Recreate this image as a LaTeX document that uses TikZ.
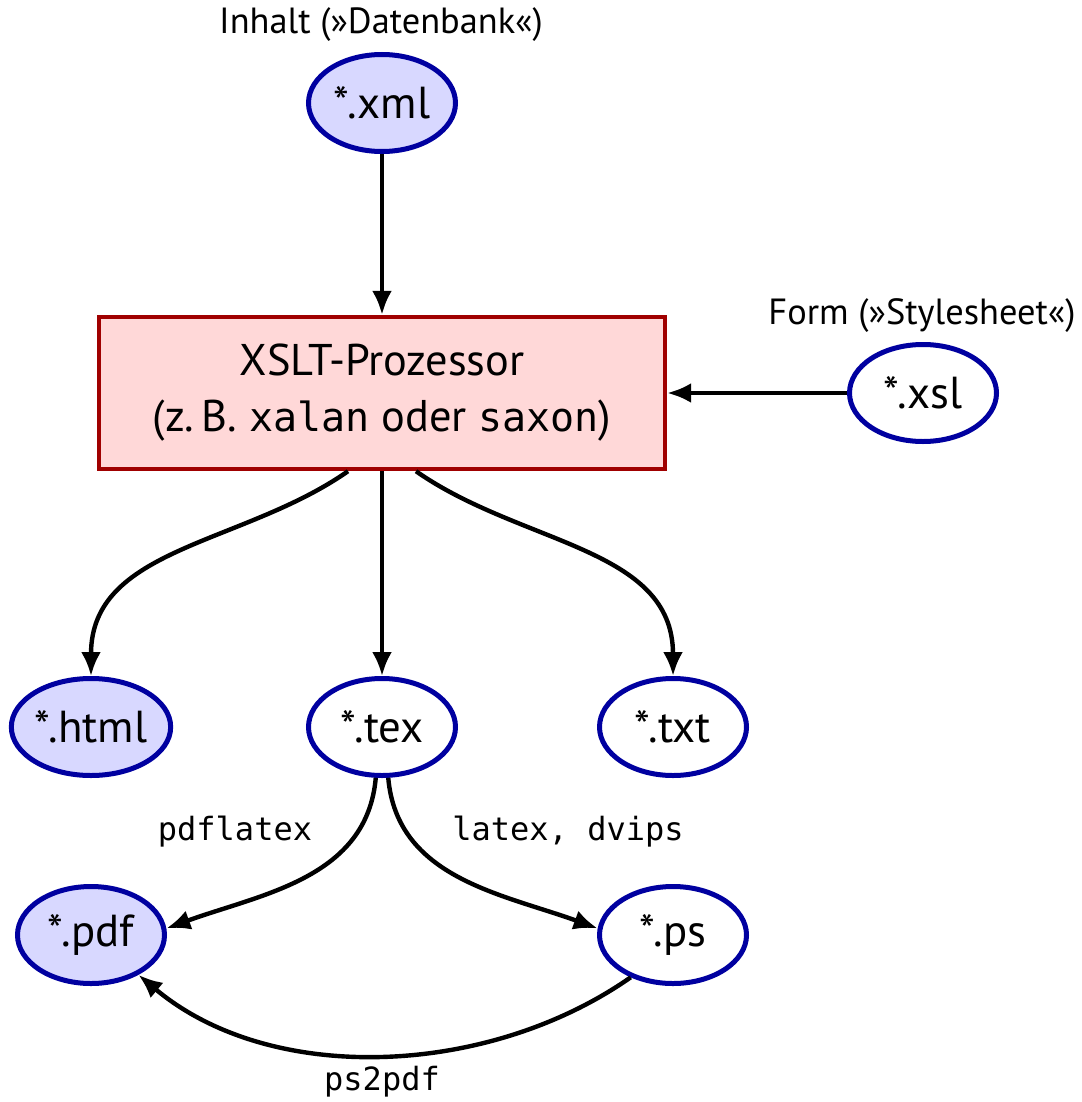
\documentclass[tikz,border=0pt]{standalone}
\usepackage{fontspec}
\setmainfont{PT Sans}
\setmonofont{DejaVu Sans Mono}
\usetikzlibrary{arrows.meta,shapes.geometric}
\definecolor{eblue}{RGB}{0,0,160}
\definecolor{efill}{RGB}{216,216,255}
\definecolor{bred}{RGB}{160,0,0}
\definecolor{bfill}{RGB}{255,216,216}
\tikzset{
  file/.style={ellipse,draw=eblue,line width=2.5pt,minimum width=73.5pt,minimum height=48.5pt,inner sep=0pt,font=\fontsize{22.4}{26}\selectfont},
  filled/.style={file,fill=efill},
  plain/.style={file,fill=white},
  proc/.style={rectangle,draw=bred,fill=bfill,line width=2.2pt,minimum width=283pt,minimum height=76pt,align=center,font=\fontsize{22.2}{28}\selectfont},
  lbl/.style={font=\fontsize{18.2}{20}\selectfont,inner sep=0pt},
  tlbl/.style={font=\ttfamily\fontsize{16}{18}\selectfont,inner sep=0pt},
  arr/.style={line width=2.2pt,-{Latex[length=12pt,width=10pt]}}
}
\newcommand{\boxtt}[1]{{\ttfamily\fontsize{20}{28}\selectfont #1}}
\begin{document}
\begin{tikzpicture}[x=0.5pt,y=0.5pt]
\useasboundingbox (0,0) rectangle (1081,-1102);
\node[filled] (xml) at (382,-103) {*.xml};
\node[lbl] (inhalt) at (381,-25) {Inhalt (»Datenbank«)};
\node[proc] (box) at (382,-393) {XSLT-Prozessor\\(z.\,B. \boxtt{xalan} oder \boxtt{saxon})};
\node[plain] (xsl) at (923,-393) {*.xsl};
\node[lbl] (form) at (922,-316) {Form (»Stylesheet«)};
\node[filled] (html) at (91,-727) {*.html};
\node[plain] (tex) at (382,-727) {*.tex};
\node[plain] (txt) at (673,-727) {*.txt};
\node[filled] (pdf) at (91,-935) {*.pdf};
\node[plain] (ps) at (673,-935) {*.ps};
\node[tlbl] (lpdflatex) at (235,-832) {pdflatex};
\node[tlbl] (llatex) at (568,-832) {latex, dvips};
\node[tlbl] (lps2pdf) at (382,-1082) {ps2pdf};
\draw[arr] (xml) -- (box);
\draw[arr] (xsl) -- (box);
\draw[arr] ([xshift=-17pt]box.south) to[out=-145,in=90] (html.north);
\draw[arr] (box.south) -- (tex.north);
\draw[arr] ([xshift=17pt]box.south) to[out=-35,in=90] (txt.north);
\draw[arr] (tex.-97) to[out=-95,in=20] (pdf.5);
\draw[arr] (tex.-83) to[out=-85,in=160] (ps.175);
\draw[arr] (ps.-135) to[out=-145,in=-40,looseness=0.9] (pdf.-40);
\end{tikzpicture}
\end{document}
